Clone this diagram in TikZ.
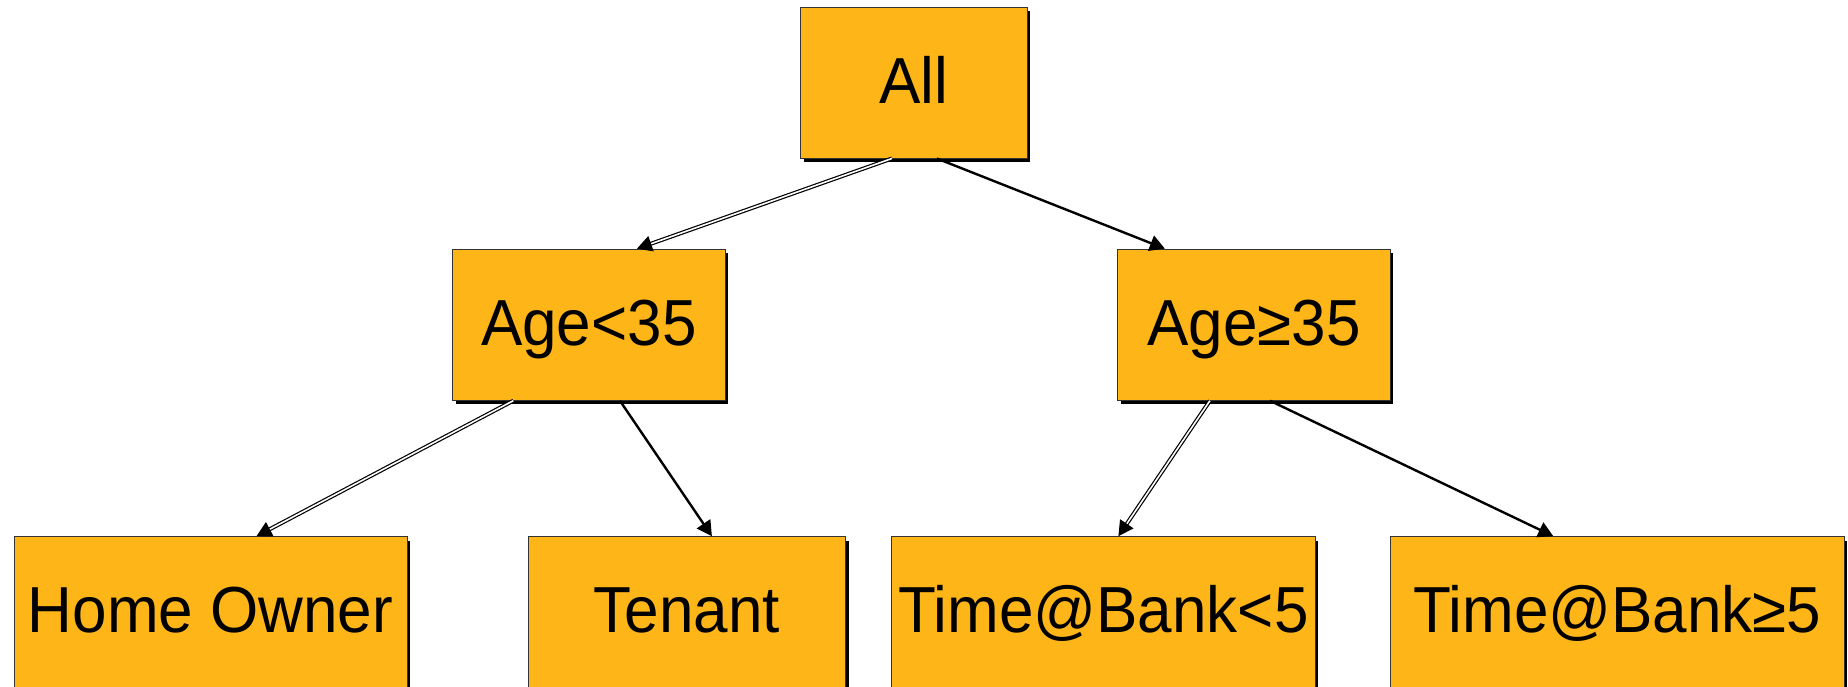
\documentclass[tikz,border=0pt]{standalone}
\usepackage{graphicx}
\usepackage{fontspec}
\setmainfont{Liberation Sans}
\usetikzlibrary{arrows.meta,shadows,calc}
\definecolor{boxfill}{RGB}{253,181,23}
\tikzset{
 box/.style={draw=black!80, line width=0.5pt, fill=boxfill, inner sep=0pt,
   minimum height=75.5pt, text height=23.3pt, text depth=2.8pt,
   font=\fontsize{31}{37}\selectfont,
   drop shadow={shadow xshift=1.5pt, shadow yshift=-2pt, fill=black, opacity=1}},
 link/.style={line width=1.2pt, -{Triangle[length=7.5pt,width=8pt]}},
 dlink/.style={line width=0.6pt, double=white, double distance=0.8pt, -{Triangle[length=7.5pt,width=8pt]}},
}
\newcommand{\tx}[1]{\scalebox{1}[1.05]{#1}}
\begin{document}
\begin{tikzpicture}[x=0.5pt,y=-0.5pt]
\clip (0,0) rectangle (1848,686);
\node[box, minimum width=113.2pt] (all) at (913.9,82.5) {\tx{All}};
\node[box, minimum width=136.2pt] (lt) at (588.9,324.7) {\tx{Age<35}};
\node[box, minimum width=136.2pt] (ge) at (1253.9,324.7) {\tx{Age≥35}};
\node[box, minimum width=196.5pt] (home) at (210.5,612.2) {\tx{Home Owner}};
\node[box, minimum width=158.9pt] (ten) at (686.9,612.2) {\tx{Tenant}};
\node[box, minimum width=211.7pt] (tlt) at (1103.4,612.2) {\tx{Time@Bank<5}};
\node[box, minimum width=227pt] (tge) at (1617.3,612.2) {\tx{Time@Bank≥5}};
\draw[dlink] ($(all.south)+(-22,0)$) -- ($(lt.north)+(48,0)$);
\draw[link] ($(all.south)+(23,0)$) -- ($(ge.north)+(-89,0)$);
\draw[dlink] ($(lt.south)+(-75.6,0)$) -- ($(home.north)+(46,0)$);
\draw[link] ($(lt.south)+(31,0)$) -- ($(ten.north)+(25,0)$);
\draw[dlink] ($(ge.south)+(-44,0)$) -- ($(tlt.north)+(15,0)$);
\draw[link] ($(ge.south)+(16,0)$) -- ($(tge.north)+(-64,0)$);
\end{tikzpicture}
\end{document}
